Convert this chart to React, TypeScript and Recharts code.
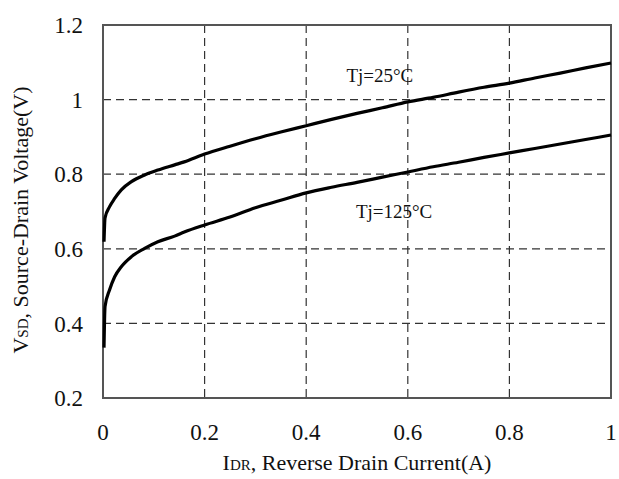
import { LineChart, Line, XAxis, YAxis, CartesianGrid, ReferenceArea, ReferenceDot } from 'recharts';

// IDR (A)
const currents = [
  0.002, 0.004, 0.013, 0.023, 0.036, 0.056, 0.082, 0.108, 0.141, 0.16, 0.2, 0.25, 0.3,
  0.35, 0.4, 0.45, 0.5, 0.55, 0.6, 0.65, 0.7, 0.75, 0.8, 0.85, 0.9, 0.95, 1.0,
];
// VSD (V) at Tj=25°C
const vsd25 = [
  0.619, 0.683, 0.713, 0.735, 0.758, 0.78, 0.798, 0.811, 0.825, 0.833, 0.854, 0.875, 0.895,
  0.913, 0.93, 0.947, 0.963, 0.978, 0.994, 1.006, 1.02, 1.033, 1.044, 1.058, 1.071, 1.085, 1.098,
];
// VSD (V) at Tj=125°C
const vsd125 = [
  0.335, 0.445, 0.49, 0.525, 0.552, 0.579, 0.601, 0.619, 0.634, 0.645, 0.664, 0.685, 0.71,
  0.73, 0.75, 0.765, 0.778, 0.792, 0.806, 0.82, 0.832, 0.845, 0.857, 0.869, 0.881, 0.893, 0.905,
];

const xTicks = [0, 0.2, 0.4, 0.6, 0.8, 1];
const yTicks = [0.2, 0.4, 0.6, 0.8, 1, 1.2];

const data = currents.map((x, i) => ({ x, t25: vsd25[i], t125: vsd125[i] }));

const FONT = '"Liberation Serif", "Times New Roman", serif';
const fmt = (v: number) => String(v);

const XTitle = () => (
  <text x={357} y={470} textAnchor="middle" fontFamily={FONT} fontSize={22} fill="#111">
    I<tspan fontSize={15}>DR</tspan>, Reverse Drain Current(A)
  </text>
);

const YTitle = () => (
  <text
    x={0}
    y={0}
    transform="translate(28, 220) rotate(-90)"
    textAnchor="middle"
    fontFamily={FONT}
    fontSize={22}
    fill="#111"
  >
    V<tspan fontSize={15}>SD</tspan>, Source-Drain Voltage(V)
  </text>
);

const Note = ({ text }: { text: string }) => (props: any) => {
  const { viewBox } = props;
  const cx = viewBox.x + (viewBox.width || 0) / 2;
  const cy = viewBox.y + (viewBox.height || 0) / 2;
  return (
    <text x={cx} y={cy} dy="0.35em" textAnchor="middle" fontFamily={FONT} fontSize={19} fill="#111">
      {text}
    </text>
  );
};

export default function App() {
  return (
    <div style={{ position: 'absolute', left: 0, top: 0, width: 619, height: 479, background: '#fff' }}>
      <LineChart
        width={619}
        height={479}
        data={data}
        margin={{ top: 25, right: 8, bottom: 0, left: 0 }}
      >
        <CartesianGrid stroke="#333" strokeWidth={1.2} strokeDasharray="8 5" />
        <XAxis
          type="number"
          dataKey="x"
          domain={[0, 1]}
          ticks={xTicks}
          tickFormatter={fmt}
          height={81}
          axisLine={false}
          tickLine={false}
          tickSize={0}
          tickMargin={26}
          tick={{ fontFamily: FONT, fontSize: 23, fill: '#111' }}
          label={<XTitle />}
        />
        <YAxis
          type="number"
          domain={[0.2, 1.2]}
          ticks={yTicks}
          tickFormatter={fmt}
          width={103}
          axisLine={false}
          tickLine={false}
          tickSize={0}
          tickMargin={20}
          tick={{ fontFamily: FONT, fontSize: 23, fill: '#111' }}
          label={<YTitle />}
        />
        <ReferenceArea x1={0} x2={1} y1={0.2} y2={1.2} fill="none" stroke="#555" strokeWidth={2} />
        <Line
          type="monotone"
          dataKey="t25"
          stroke="#000"
          strokeWidth={3.2}
          dot={false}
          isAnimationActive={false}
        />
        <Line
          type="monotone"
          dataKey="t125"
          stroke="#000"
          strokeWidth={3.2}
          dot={false}
          isAnimationActive={false}
        />
        <ReferenceDot x={0.545} y={1.066} r={0} fill="none" stroke="none" label={Note({ text: 'Tj=25°C' })} />
        <ReferenceDot x={0.573} y={0.7} r={0} fill="none" stroke="none" label={Note({ text: 'Tj=125°C' })} />
      </LineChart>
    </div>
  );
}
